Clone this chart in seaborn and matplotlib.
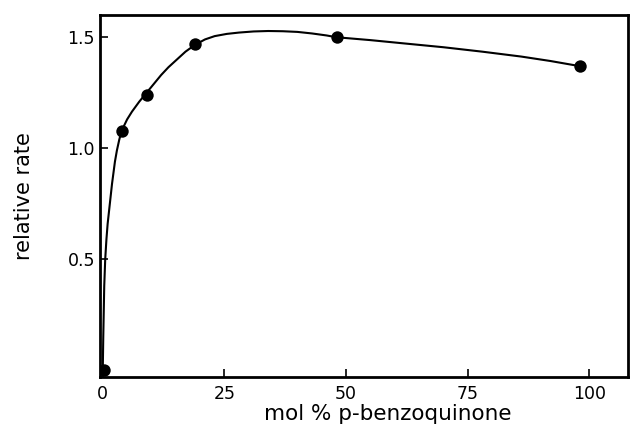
import matplotlib
matplotlib.use("Agg")
import matplotlib.pyplot as plt
import seaborn as sns
import pandas as pd

# measured points
pt_x = [0.3, 3.9, 9.0, 18.9, 48.1, 98.0]
pt_y = [0.0, 1.08, 1.24, 1.47, 1.50, 1.37]

# hand-drawn smooth curve
curve_x = [0.0, 0.1, 0.3, 0.5, 0.75, 1.0, 1.3, 1.6, 1.9, 2.2, 2.5, 2.9, 3.4, 3.9,
           5.0, 6.0, 7.5, 9.0, 10.5, 12.0, 13.5, 15.0, 17.0, 18.9, 21.0, 23.0,
           25.5, 28.0, 31.0, 34.0, 37.0, 40.0, 43.0, 46.0, 48.0, 55.0, 62.0,
           70.0, 78.0, 86.0, 92.0, 98.0]
curve_y = [0.0, 0.15, 0.38, 0.50, 0.59, 0.66, 0.72, 0.78, 0.84, 0.89, 0.94, 0.99, 1.04, 1.08,
           1.13, 1.165, 1.21, 1.25, 1.29, 1.33, 1.365, 1.395, 1.435, 1.465, 1.49, 1.505,
           1.515, 1.521, 1.526, 1.528, 1.527, 1.524, 1.517, 1.508, 1.50, 1.487, 1.472,
           1.455, 1.435, 1.413, 1.393, 1.37]

x_ticks = [0, 25, 50, 75, 100]
y_ticks = [0.5, 1.0, 1.5]
y_tick_labels = ["0.5", "1.0", "1.5"]

sns.set_style("ticks")
plt.rcParams['font.family'] = ['DejaVu Sans']

fig = plt.figure(figsize=(6.32, 4.29), dpi=100)
ax = fig.add_axes([0.158, 0.121, 0.836, 0.844])

pts = pd.DataFrame({"x": pt_x, "y": pt_y})
cur = pd.DataFrame({"x": curve_x, "y": curve_y})

sns.lineplot(data=cur, x="x", y="y", ax=ax, color="black", linewidth=1.5, sort=False)
sns.scatterplot(data=pts, x="x", y="y", ax=ax, color="black", s=80, edgecolor="black",
                linewidth=0, zorder=3)

ax.set_xlim(-0.6, 108)
ax.set_ylim(-0.03, 1.60)
ax.set_xticks(x_ticks)
ax.set_yticks(y_ticks)
ax.set_yticklabels(y_tick_labels)
ax.tick_params(direction="in", length=6, width=1.2, labelsize=12.5, colors="black")
ax.tick_params(axis="x", pad=6)
for s in ax.spines.values():
    s.set_visible(True)
    s.set_linewidth(2)
    s.set_color("black")

ax.set_xlabel("mol % p-benzoquinone", fontsize=15.5, color="black")
ax.xaxis.set_label_coords(0.545, -0.075)
ax.set_ylabel("relative rate", fontsize=15, labelpad=24, color="black")

fig.savefig("out.png", dpi=100)
